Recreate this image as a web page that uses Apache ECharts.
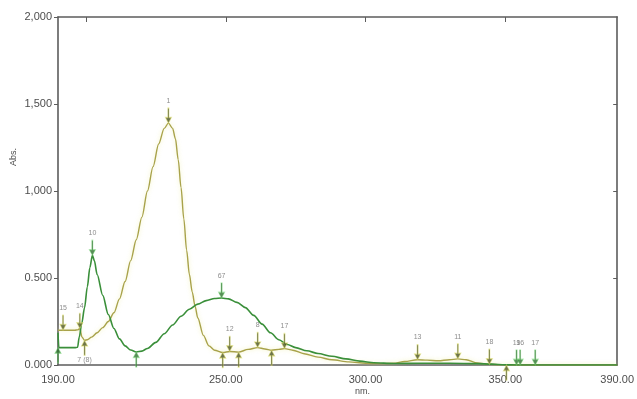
<!DOCTYPE html>
<html>
<head>
<meta charset="utf-8">
<script src="https://cdn.jsdelivr.net/npm/echarts@6/dist/echarts.min.js"></script>
<style>
  html, body { margin: 0; padding: 0; background: #fff; }
  #chart { width: 637px; height: 399px; }
</style>
</head>
<body>
<div id="chart"></div>
<script>
// Spectrum A (olive trace): [wavelength nm, absorbance]
const spectrumA = [
  [190, 0.200], [192, 0.200], [194, 0.200], [196, 0.200], [197, 0.202], [197.8, 0.210],
  [198.6, 0.160], [199.5, 0.142], [200.5, 0.145], [202, 0.160], [204, 0.185],
  [206, 0.215], [208, 0.250], [210, 0.300], [212, 0.380], [214, 0.480], [216, 0.600],
  [218, 0.720], [220, 0.850], [222, 1.000], [224, 1.140], [226, 1.270], [228, 1.360],
  [229.5, 1.390], [231, 1.360], [232, 1.300], [233, 1.180], [234, 1.020], [235, 0.840],
  [236, 0.660], [237, 0.520], [238, 0.420], [239, 0.340], [240, 0.270], [242, 0.170],
  [244, 0.110], [246, 0.085], [248.9, 0.072], [251.4, 0.078], [254.6, 0.074],
  [258, 0.090], [261.4, 0.100], [264, 0.092], [266.4, 0.085], [269, 0.090],
  [271, 0.094], [274, 0.085], [278, 0.065], [283, 0.045], [288, 0.030], [294, 0.018],
  [300, 0.010], [305, 0.008], [310, 0.010], [314, 0.020], [318.6, 0.030], [322, 0.028],
  [326, 0.024], [330, 0.030], [333, 0.035], [336, 0.030], [340, 0.012], [344.3, 0.004],
  [348, 0.001], [350.4, 0.000], [360, 0.000], [375, 0.000], [390, 0.000]
];

// Spectrum B (green trace): [wavelength nm, absorbance]
const spectrumB = [
  [190, 0.185], [190.3, 0.100], [192, 0.100], [194, 0.100], [196, 0.100], [197, 0.102],
  [197.6, 0.160], [198.5, 0.240], [199.5, 0.330], [200.5, 0.450], [201.4, 0.560],
  [202.3, 0.630], [203, 0.600], [204, 0.520], [206, 0.400], [208, 0.290], [210, 0.210],
  [212, 0.150], [214, 0.110], [216, 0.086], [218, 0.075], [220, 0.080], [222, 0.095],
  [225, 0.130], [228, 0.180], [231, 0.230], [234, 0.280], [237, 0.320], [240, 0.350],
  [243, 0.370], [246, 0.382], [248.5, 0.385], [251, 0.380], [254, 0.360], [257, 0.330],
  [260, 0.285], [263, 0.235], [266, 0.185], [269, 0.145], [272, 0.118], [275, 0.100],
  [279, 0.082], [283, 0.066], [288, 0.050], [293, 0.035], [298, 0.022], [303, 0.013],
  [310, 0.009], [320, 0.010], [330, 0.010], [340, 0.008], [345, 0.005], [350, 0.001],
  [354, 0.000], [360, 0.000], [375, 0.000], [390, 0.000]
];

// Peak picks: [nm, absorbance, tag]
const peaksA = [
  [191.8, 0.200, '15'], [197.8, 0.210, '14'], [229.5, 1.390, '1'], [251.4, 0.078, '12'],
  [261.4, 0.100, '8'], [271, 0.094, '17'], [318.6, 0.030, '13'], [333, 0.035, '11'],
  [344.3, 0.004, '18']
];
const peaksB = [
  [202.3, 0.630, '10'], [248.5, 0.385, '67'], [354, 0.000, '19'], [355.3, 0.000, '16'],
  [360.7, 0.000, '17']
];
// Valley picks: [nm, absorbance, tag]
const valleysA = [
  [199.5, 0.142, '7 (8)'], [248.9, 0.072, ''], [254.6, 0.074, ''], [266.4, 0.085, ''],
  [350.4, 0.000, '']
];
const valleysB = [
  [190, 0.100, ''], [218, 0.075, '']
];

// Axis labels
const xLabelValues = [190, 250, 300, 350, 390];
const xTopTicks = [200, 250, 300, 350];
const yTickLabels = ['0.000', '0.500', '1,000', '1,500', '2,000'];

const colorA = '#a8a24a';
const colorB = '#3a8f3a';

const arrowDown = 'path://M4.4,0 L5.6,0 L5.6,10 L8,10 L5,16 L2,10 L4.4,10 Z';
const arrowUp = 'path://M5,0 L8,6 L5.6,6 L5.6,16 L4.4,16 L4.4,6 L2,6 Z';

function pickSeries(rows, symbol, offsetY, labelPos, color, halo) {
  return {
    type: 'scatter',
    xAxisIndex: 0, yAxisIndex: 0,
    data: rows.map(r => ({ value: [r[0], r[1]], name: r[2] })),
    symbol: symbol,
    symbolSize: [6, 15],
    symbolOffset: [0, offsetY],
    itemStyle: { color: color, borderColor: halo, borderWidth: 1 },
    label: {
      show: true, position: labelPos, distance: labelPos === 'bottom' ? 0 : 3,
      formatter: p => p.name, fontSize: 7, color: '#6f6f6f',
      fontFamily: 'Liberation Sans'
    },
    emphasis: { disabled: true },
    z: 5, silent: true
  };
}

const chart = echarts.init(document.getElementById('chart'), null, { renderer: 'canvas' });

const axisLineStyle = { color: '#5c5c5c', width: 1.6 };
const labelFont = { fontSize: 11, color: '#4d4d4d', fontFamily: 'Liberation Sans' };

chart.setOption({
  animation: false,
  backgroundColor: '#ffffff',
  grid: { left: 58, right: 17, top: 17, bottom: 34 },
  xAxis: [
    {
      type: 'value', min: 190, max: 390, interval: 10, position: 'bottom',
      axisLine: { show: true, onZero: false, lineStyle: axisLineStyle },
      axisTick: { show: false },
      axisLabel: Object.assign({
        customValues: xLabelValues, margin: 9,
        formatter: v => v.toFixed(2)
      }, labelFont),
      splitLine: { show: false }
    },
    {
      type: 'value', min: 190, max: 390, interval: 10, position: 'top',
      axisLine: { show: true, onZero: false, lineStyle: axisLineStyle },
      axisTick: { show: true, inside: true, length: 5, customValues: xTopTicks,
        lineStyle: { color: '#5c5c5c', width: 1 } },
      axisLabel: { show: false },
      splitLine: { show: false }
    }
  ],
  yAxis: [
    {
      type: 'value', min: 0, max: 2, interval: 0.5, position: 'left',
      axisLine: { show: true, onZero: false, lineStyle: axisLineStyle },
      axisTick: { show: true, inside: false, length: 4, lineStyle: { color: '#5c5c5c', width: 1 } },
      axisLabel: Object.assign({
        margin: 6,
        formatter: v => yTickLabels[Math.round(v / 0.5)]
      }, labelFont),
      splitLine: { show: false }
    },
    {
      type: 'value', min: 0, max: 2, interval: 0.5, position: 'right',
      axisLine: { show: true, onZero: false, lineStyle: axisLineStyle },
      axisTick: { show: true, inside: true, length: 4, customValues: [0.5, 1.0, 1.5],
        lineStyle: { color: '#5c5c5c', width: 1 } },
      axisLabel: { show: false },
      splitLine: { show: false }
    }
  ],
  graphic: [
    {
      type: 'text', left: 9, top: 148, rotation: Math.PI / 2,
      style: { text: 'Abs.', fontSize: 9, fill: '#4d4d4d', fontFamily: 'Liberation Sans' }
    },
    {
      type: 'text', left: 355, top: 387,
      style: { text: 'nm.', fontSize: 9, fill: '#4d4d4d', fontFamily: 'Liberation Sans' }
    }
  ],
  series: [
    {
      type: 'line', name: 'A', data: spectrumA, showSymbol: false,
      smooth: 0.3, smoothMonotone: 'x',
      lineStyle: { color: colorA, width: 1.4, shadowColor: 'rgba(235,235,150,0.7)', shadowBlur: 4 },
      z: 3, silent: true
    },
    {
      type: 'line', name: 'B', data: spectrumB, showSymbol: false,
      smooth: 0.3, smoothMonotone: 'x',
      lineStyle: { color: colorB, width: 1.6 },
      z: 4, silent: true
    },
    pickSeries(peaksA, arrowDown, '-50%', 'top', '#4a5220', 'rgba(225,225,110,0.7)'),
    pickSeries(peaksB, arrowDown, '-50%', 'top', '#2f6f2f', 'rgba(120,220,120,0.6)'),
    pickSeries(valleysA, arrowUp, '50%', 'bottom', '#4a5220', 'rgba(225,225,110,0.7)'),
    pickSeries(valleysB, arrowUp, '50%', 'bottom', '#2f6f2f', 'rgba(120,220,120,0.6)')
  ]
});
</script>
</body>
</html>
